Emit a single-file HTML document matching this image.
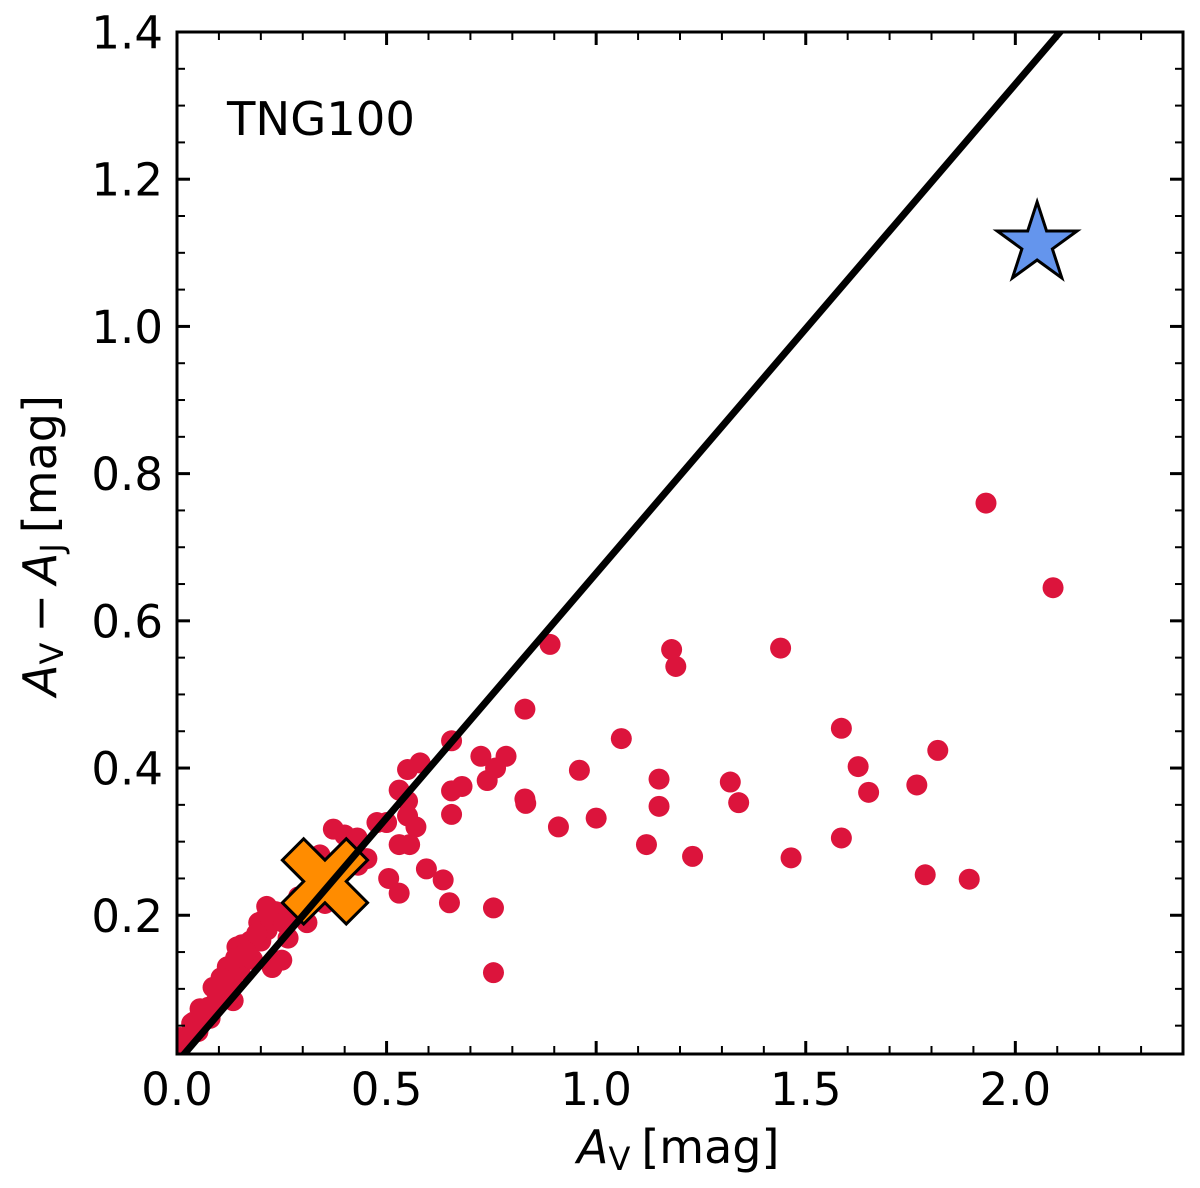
<!DOCTYPE html>
<html>
<head>
<meta charset="utf-8">
<title>TNG100 attenuation chart</title>
<style>
html,body{margin:0;padding:0;background:#fff;}
svg{display:block;}
text{font-family:"DejaVu Sans","Liberation Sans",sans-serif;fill:#000;}
</style>
</head>
<body>
<svg id="chart" xmlns="http://www.w3.org/2000/svg" width="1200" height="1188" viewBox="0 0 1200 1188">
  <defs><clipPath id="plot-clip"><rect x="177" y="32" width="1006" height="1022"/></clipPath></defs>
  <rect x="0" y="0" width="1200" height="1188" fill="#fff"/>
  <g id="points" clip-path="url(#plot-clip)"></g>
  <g id="markers-below" clip-path="url(#plot-clip)"></g>
  <g id="line-layer" clip-path="url(#plot-clip)"></g>
  <g id="markers-above" clip-path="url(#plot-clip)"></g>
  <g id="ticks"></g>
  <g id="tick-labels"></g>
  <rect x="177" y="32" width="1006" height="1022" fill="none" stroke="#000" stroke-width="3"/>
  <text x="227" y="135" font-size="46.5">TNG100</text>
  <text x="577" y="1163" font-size="46"><tspan font-style="italic">A</tspan><tspan font-size="32" dy="7">V</tspan><tspan dy="-7" dx="11">[mag]</tspan></text>
  <text transform="translate(56,696) rotate(-90)" font-size="46"><tspan font-style="italic">A</tspan><tspan font-size="32" dy="7">V</tspan><tspan dy="-7" dx="10">−</tspan><tspan dx="10" font-style="italic">A</tspan><tspan font-size="32" dy="7">J</tspan><tspan dy="-7" dx="10">[mag]</tspan></text>
</svg>
<script>
const avValues = [1.93,2.09,0.89,1.18,1.19,1.44,0.83,1.585,1.06,0.655,0.725,0.785,0.58,0.55,0.76,0.74,0.96,1.625,1.815,1.15,1.32,1.765,1.65,0.68,0.655,0.53,0.83,0.832,1.15,1.34,0.55,0.55,0.655,1.0,0.57,0.91,1.12,0.53,0.555,1.23,1.465,1.585,0.595,0.505,0.635,0.53,0.65,0.755,0.755,1.785,1.89,0.373,0.40,0.43,0.477,0.50,0.453,0.432,0.341,0.353,0.31,0.265,0.25,0.227,0.134,0.079,0.214,0.086,0.143,0.179,0.122,0.205,0.035,0.055,0.004,0.008,0.014,0.03,0.04,0.05,0.065,0.075,0.09,0.1,0.11,0.12,0.13,0.15,0.155,0.16,0.175,0.18,0.195,0.2,0.215,0.225,0.24,0.27,0.3,0.33,0.36,0.41,0.165,0.19,0.235,0.255,0.105,0.14,0.29];
const colourExcessValues = [0.76,0.645,0.568,0.561,0.538,0.563,0.48,0.454,0.44,0.437,0.416,0.416,0.407,0.398,0.40,0.383,0.397,0.402,0.424,0.385,0.381,0.377,0.367,0.375,0.369,0.37,0.358,0.352,0.348,0.353,0.355,0.335,0.337,0.332,0.32,0.32,0.296,0.296,0.296,0.28,0.278,0.305,0.263,0.25,0.248,0.23,0.217,0.21,0.122,0.255,0.249,0.317,0.309,0.305,0.326,0.326,0.277,0.268,0.282,0.216,0.19,0.169,0.139,0.129,0.084,0.06,0.212,0.102,0.157,0.166,0.129,0.193,0.053,0.073,0.022,0.034,0.028,0.036,0.055,0.042,0.06,0.075,0.08,0.1,0.095,0.13,0.11,0.125,0.16,0.14,0.165,0.14,0.19,0.165,0.18,0.19,0.2,0.2,0.215,0.25,0.27,0.285,0.15,0.175,0.205,0.19,0.115,0.142,0.225];
const xMajorTicks = [0,0.5,1,1.5,2];
const xMajorLabels = ["0.0","0.5","1.0","1.5","2.0"];
const xMinorTicks = [0.1,0.2,0.3,0.4,0.6,0.7,0.8,0.9,1.1,1.2,1.3,1.4,1.6,1.7,1.8,1.9,2.1,2.2,2.3];
const yMajorTicks = [0.2,0.4,0.6,0.8,1.0,1.2,1.4];
const yMajorLabels = ["0.2","0.4","0.6","0.8","1.0","1.2","1.4"];
const yMinorTicks = [0.05,0.1,0.15,0.25,0.3,0.35,0.45,0.5,0.55,0.65,0.7,0.75,0.85,0.9,0.95,1.05,1.1,1.15,1.25,1.3,1.35];
const lineAv = [0,2.4];
const lineExcess = [0,1.595];
const starAv = [2.052];
const starExcess = [1.112];
const crossAv = [0.353];
const crossExcess = [0.246];

const NS = 'http://www.w3.org/2000/svg';
const xMin = 0, xMax = 2.4, yMin = 0.0115, yMax = 1.4;
const L = 177, R = 1183, T = 32, B = 1054;
function xScale(v){ return L + (v - xMin) / (xMax - xMin) * (R - L); }
function yScale(v){ return B - (v - yMin) / (yMax - yMin) * (B - T); }
function make(tag, parent, attrs){
  const el = document.createElementNS(NS, tag);
  for (const k in attrs) el.setAttribute(k, attrs[k]);
  parent.appendChild(el);
  return el;
}

const pointsGroup = document.getElementById('points');
avValues.forEach(function(av, i){
  const c = make('circle', pointsGroup, {cx: xScale(av), cy: yScale(colourExcessValues[i]), r: 10.5, fill: '#DC143C'});
  
  
});

const crossUnit = 21.3;
const crossShape = [[-1,-2],[0,-1],[1,-2],[2,-1],[1,0],[2,1],[1,2],[0,1],[-1,2],[-2,1],[-1,0],[-2,-1]];
const belowGroup = document.getElementById('markers-below');
crossAv.forEach(function(av, i){
  const cx = xScale(av), cy = yScale(crossExcess[i]);
  const pts = crossShape.map(function(p){ return (cx + p[0]*crossUnit) + ',' + (cy + p[1]*crossUnit); }).join(' ');
  const m = make('polygon', belowGroup, {points: pts, fill: '#FF8C00', stroke: '#000', 'stroke-width': 3, 'stroke-linejoin': 'miter'});
  
  
});

const lineGroup = document.getElementById('line-layer');
const relation = make('line', lineGroup, {x1: xScale(lineAv[0]), y1: yScale(lineExcess[0]), x2: xScale(lineAv[1]), y2: yScale(lineExcess[1]), stroke: '#000', 'stroke-width': 7});



const aboveGroup = document.getElementById('markers-above');
const starOuter = 42, starInner = starOuter * 0.381966;
starAv.forEach(function(av, i){
  const cx = xScale(av), cy = yScale(starExcess[i]);
  const pts = [];
  for (let k = 0; k < 10; k++){
    const r = k % 2 === 0 ? starOuter : starInner;
    const a = -Math.PI / 2 + k * Math.PI / 5;
    pts.push((cx + r * Math.cos(a)) + ',' + (cy + r * Math.sin(a)));
  }
  const s = make('polygon', aboveGroup, {points: pts.join(' '), fill: '#6495ED', stroke: '#000', 'stroke-width': 3, 'stroke-linejoin': 'miter'});
  
  
});

const tickGroup = document.getElementById('ticks');
const labelGroup = document.getElementById('tick-labels');
function xTick(v, len, w){
  const x = xScale(v);
  const a = make('line', tickGroup, {x1: x, x2: x, y1: B, y2: B - len, stroke: '#000', 'stroke-width': w});
  
  
  const b = make('line', tickGroup, {x1: x, x2: x, y1: T, y2: T + len, stroke: '#000', 'stroke-width': w});
  
  
}
function yTick(v, len, w){
  const y = yScale(v);
  const a = make('line', tickGroup, {x1: L, x2: L + len, y1: y, y2: y, stroke: '#000', 'stroke-width': w});
  
  
  const b = make('line', tickGroup, {x1: R, x2: R - len, y1: y, y2: y, stroke: '#000', 'stroke-width': w});
  
  
}
xMajorTicks.forEach(function(v){ xTick(v, 13, 3); });
xMinorTicks.forEach(function(v){ xTick(v, 8, 2); });
yMajorTicks.forEach(function(v){ yTick(v, 13, 3); });
yMinorTicks.forEach(function(v){ yTick(v, 8, 2); });

xMajorTicks.forEach(function(v, i){
  const t = make('text', labelGroup, {x: xScale(v), y: 1105, 'font-size': 45, 'text-anchor': 'middle'});
  t.textContent = xMajorLabels[i];
  
  
});
yMajorTicks.forEach(function(v, i){
  const t = make('text', labelGroup, {x: 163, y: yScale(v) + 16.5, 'font-size': 45, 'text-anchor': 'end'});
  t.textContent = yMajorLabels[i];
  
  
});
</script>
</body>
</html>
